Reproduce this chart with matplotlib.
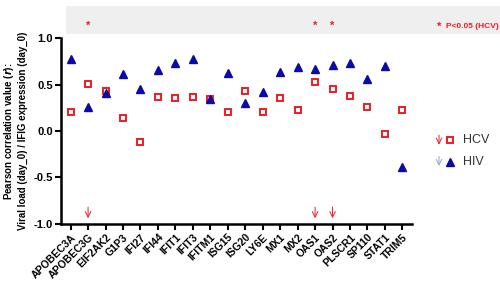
import matplotlib
matplotlib.use('Agg')
import matplotlib.pyplot as plt
from matplotlib.patches import Rectangle

plt.rcParams['font.family'] = ['Liberation Sans', 'DejaVu Sans']

# Data
genes = ['APOBEC3A', 'APOBEC3G', 'EIF2AK2', 'G1P3', 'IFI27', 'IFI44', 'IFIT1', 'IFIT3',
         'IFITM1', 'ISG15', 'ISG20', 'LY6E', 'MX1', 'MX2', 'OAS1', 'OAS2', 'PLSCR1',
         'SP110', 'STAT1', 'TRIM5']
hcv = [0.20, 0.51, 0.43, 0.14, -0.115, 0.365, 0.35, 0.365, 0.345, 0.20, 0.43,
       0.205, 0.36, 0.23, 0.525, 0.455, 0.38, 0.26, -0.03, 0.225]
hiv = [0.77, 0.26, 0.41, 0.61, 0.45, 0.66, 0.73, 0.78, 0.345, 0.62, 0.30,
       0.42, 0.64, 0.69, 0.67, 0.71, 0.73, 0.56, 0.70, -0.39]
signif_hcv = ['APOBEC3G', 'OAS1', 'OAS2']

red = '#ee1c24'
blue = '#0a0aa8'
light_blue = '#8fa9c8'

fig = plt.figure(figsize=(5, 2.91), dpi=100)

# grey band above the plot
band = Rectangle((0.132, 0.883), 0.868, 0.097, transform=fig.transFigure,
                 facecolor='#efefef', edgecolor='none', zorder=-1)
fig.patches.append(band)

ax = fig.add_axes([0.122, 0.231, 0.702, 0.638])
ax.patch.set_alpha(0)

x = list(range(len(genes)))
ax.plot(x, hcv, linestyle='none', marker='s', markersize=5, markerfacecolor='white',
        markeredgecolor=red, markeredgewidth=1.4, zorder=3)
ax.plot(x, hiv, linestyle='none', marker='^', markersize=5.2, color=blue, zorder=3)

# significance: arrows at bottom and asterisks in grey band
for g in signif_hcv:
    i = genes.index(g)
    ax.annotate('', xy=(i, -0.97), xytext=(i, -0.79),
                arrowprops=dict(arrowstyle='->', color=red, lw=0.7))
    ax.text(i, 1.13, '*', color=red, ha='center', va='center', fontsize=8,
            fontweight='bold', clip_on=False)

fig.text(0.879, 0.908, '*', color=red, fontsize=8, fontweight='bold', ha='center', va='center')
fig.text(0.893, 0.908, 'P<0.05 (HCV)', color=red, fontsize=6, fontweight='bold', va='center')

ax.set_xlim(-0.55, 19.55)
ax.set_ylim(-1.0, 1.0)
ax.set_yticks([-1.0, -0.5, 0.0, 0.5, 1.0])
ax.set_yticklabels(['-1.0', '-0.5', '0.0', '0.5', '1.0'], fontsize=8, fontweight='bold')
ax.set_xticks(x)
ax.set_xticklabels(genes, rotation=45, ha='right', rotation_mode='anchor', fontsize=7.5,
                   fontweight='bold')
ax.spines['top'].set_visible(False)
ax.spines['right'].set_visible(False)
ax.spines['left'].set_linewidth(1.8)
ax.spines['bottom'].set_linewidth(1.8)
ax.tick_params(axis='both', width=1.5, length=4, direction='out', pad=2)
ax.set_ylabel('Pearson correlation value ($\\mathbfit{r}$):\nViral load (day_0) / IFIG expression (day_0)',
              fontsize=7, fontweight='bold', labelpad=4)

# legend drawn manually
for yy, col in [(0.518, red), (0.445, light_blue)]:
    ax.annotate('', xy=(0.878, yy - 0.025), xytext=(0.878, yy + 0.027),
                xycoords='figure fraction', textcoords='figure fraction',
                arrowprops=dict(arrowstyle='->', color=col, lw=0.7))
fig.lines.append(plt.Line2D([0.899], [0.518], transform=fig.transFigure, marker='s',
                            markersize=5, markerfacecolor='white', markeredgecolor=red,
                            markeredgewidth=1.4, linestyle='none'))
fig.lines.append(plt.Line2D([0.899], [0.445], transform=fig.transFigure, marker='^',
                            markersize=5.2, color=blue, linestyle='none'))
fig.text(0.925, 0.518, 'HCV', color='#333333', fontsize=9, va='center')
fig.text(0.925, 0.445, 'HIV', color='#333333', fontsize=9, va='center')

fig.savefig('out.png', dpi=100)
